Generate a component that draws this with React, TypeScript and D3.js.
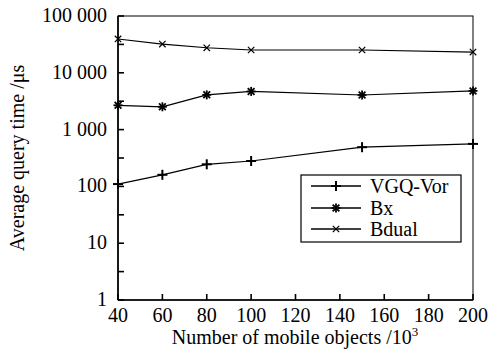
import React from "react";
import * as d3 from "d3";

const objectCounts = [40, 60, 80, 100, 150, 200];
const vgqVor = [110, 160, 245, 280, 490, 560];
const bx = [2680, 2520, 4090, 4700, 4070, 4800];
const bdual = [39400, 32100, 27600, 25200, 25200, 23200];

const xTicks = [40, 60, 80, 100, 120, 140, 160, 180, 200];
const yTicks = [1, 10, 100, 1000, 10000, 100000];
const yTickLabels = ["1", "10", "100", "1 000", "10 000", "100 000"];
const seriesNames = ["VGQ-Vor", "Bx", "Bdual"];
const yTitle = "Average query time /μs";
const xTitle = "Number of mobile objects /10";

const W = 489;
const H = 356;
const M = { left: 118, right: 473, top: 16, bottom: 300 };

function Label(props: any) {
  const { children, size = 20, ...rest } = props;
  return (
    <text style={{ fontFamily: "Liberation Serif, serif", fontSize: size }} fill="#000" {...rest}>
      {children}
    </text>
  );
}

function Marker({ kind, x, y }: { kind: string; x: number; y: number }) {
  if (kind === "plus") {
    const s = 5;
    return (
      <g stroke="#000" strokeWidth={2}>
        <line x1={x - s} y1={y} x2={x + s} y2={y} />
        <line x1={x} y1={y - s} x2={x} y2={y + s} />
      </g>
    );
  }
  if (kind === "star") {
    const s = 4.5;
    return (
      <g stroke="#000" strokeWidth={1.8}>
        <line x1={x - s} y1={y} x2={x + s} y2={y} />
        <line x1={x} y1={y - s} x2={x} y2={y + s} />
        <line x1={x - s * 0.75} y1={y - s * 0.75} x2={x + s * 0.75} y2={y + s * 0.75} />
        <line x1={x - s * 0.75} y1={y + s * 0.75} x2={x + s * 0.75} y2={y - s * 0.75} />
      </g>
    );
  }
  const s = 3.2;
  return (
    <g stroke="#000" strokeWidth={1.2}>
      <line x1={x - s} y1={y - s} x2={x + s} y2={y + s} />
      <line x1={x - s} y1={y + s} x2={x + s} y2={y - s} />
    </g>
  );
}

export default function App() {
  const x = d3.scaleLinear().domain([40, 200]).range([M.left, M.right]);
  const y = d3.scaleLog().domain([1, 100000]).range([M.bottom, M.top]);
  const line = d3
    .line<[number, number]>()
    .x((d) => x(d[0]))
    .y((d) => y(d[1]));

  const series = [
    { name: seriesNames[0], values: vgqVor, marker: "plus" },
    { name: seriesNames[1], values: bx, marker: "star" },
    { name: seriesNames[2], values: bdual, marker: "cross" },
  ];

  const minorTicks = yTicks.slice(0, -1).map((v) => v * Math.sqrt(10));

  const legend = { x: 301, y: 175, w: 160, h: 67 };
  const rowY = [186, 208, 229];

  return (
    <svg width={W} height={H} style={{ position: "absolute", left: 0, top: 0 }}>
      <rect x={0} y={0} width={W} height={H} fill="#fff" />
      {/* frame */}
      <rect
        x={M.left}
        y={M.top}
        width={M.right - M.left}
        height={M.bottom - M.top}
        fill="none"
        stroke="#000"
        strokeWidth={1}
      />
      <line x1={M.left} y1={M.top} x2={M.left} y2={M.bottom} stroke="#000" strokeWidth={1.6} />
      <line x1={M.left} y1={M.bottom} x2={M.right} y2={M.bottom} stroke="#000" strokeWidth={1.6} />

      {/* y ticks */}
      {yTicks.map((v, i) => (
        <g key={"y" + v}>
          <line x1={M.left} x2={M.left + 6} y1={y(v)} y2={y(v)} stroke="#000" strokeWidth={1.6} />
          <Label x={107} y={y(v) + 6} textAnchor="end">
            {yTickLabels[i]}
          </Label>
        </g>
      ))}
      {minorTicks.map((v) => (
        <line key={"m" + v} x1={M.left} x2={M.left + 6} y1={y(v)} y2={y(v)} stroke="#000" strokeWidth={1.6} />
      ))}

      {/* x ticks */}
      {xTicks.map((v) => (
        <g key={"x" + v}>
          <line x1={x(v)} x2={x(v)} y1={M.bottom} y2={M.bottom - 6} stroke="#000" strokeWidth={1.6} />
          <Label x={x(v)} y={322} textAnchor="middle">
            {v}
          </Label>
        </g>
      ))}

      {/* series */}
      {series.map((s) => {
        const pts = objectCounts.map((c, i) => [c, s.values[i]] as [number, number]);
        return (
          <g key={s.name}>
            <path d={line(pts) || ""} fill="none" stroke="#000" strokeWidth={1.2} />
            {pts.map((p, i) => (
              <Marker key={i} kind={s.marker} x={x(p[0])} y={y(p[1])} />
            ))}
          </g>
        );
      })}

      {/* legend */}
      <rect
        x={legend.x}
        y={legend.y}
        width={legend.w}
        height={legend.h}
        fill="#fff"
        stroke="#000"
        strokeWidth={1.2}
      />
      {series.map((s, i) => (
        <g key={"lg" + s.name}>
          <line x1={311} x2={361} y1={rowY[i]} y2={rowY[i]} stroke="#000" strokeWidth={1.6} />
          <Marker kind={s.marker} x={336} y={rowY[i]} />
          <Label x={370} y={rowY[i] + 6.5}>
            {s.name}
          </Label>
        </g>
      ))}

      {/* axis titles */}
      <Label transform={`translate(24, ${(M.top + M.bottom) / 2}) rotate(-90)`} textAnchor="middle">
        {yTitle}
      </Label>
      <Label x={295} y={344} textAnchor="middle">
        {xTitle}
        <tspan dy={-8} style={{ fontSize: 13 }}>3</tspan>
      </Label>
    </svg>
  );
}
